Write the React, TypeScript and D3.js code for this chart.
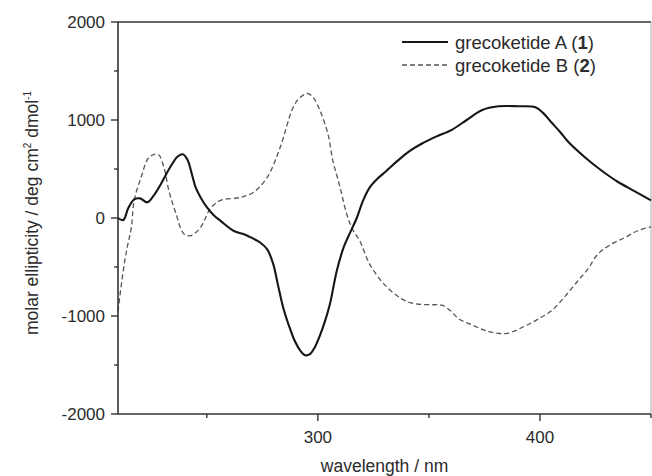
import React, { useEffect, useRef } from 'react';
import * as d3 from 'd3';

// grecoketide A (1), solid
const wavelengthA = [210, 212.4, 214.6, 217.3, 220, 223.1, 225.8, 229.4, 233.8, 237, 239.2, 241.4, 243, 245, 247.2, 250, 253, 256.2, 262, 267.3, 270.9, 274, 277.2, 279.9, 282, 284.4, 287, 289.5, 292, 294.2, 296.4, 298.6, 300.9, 303.1, 305.4, 308.5, 311.6, 314.3, 317.5, 320.2, 323.3, 326.8, 330.8, 335.7, 341.1, 346.9, 353.2, 360.3, 367, 373.8, 381.3, 390.3, 397.9, 401.5, 405, 409, 412.6, 420.2, 427.4, 435, 442.1, 450];
const ellipticityA = [0, -20, 100, 190, 200, 160, 220, 350, 530, 630, 650, 590, 470, 310, 210, 110, 30, -30, -130, -170, -210, -250, -320, -470, -680, -915, -1100, -1250, -1350, -1400, -1390, -1320, -1200, -1060, -880, -540, -300, -160, 0, 170, 310, 400, 480, 580, 680, 760, 830, 900, 1000, 1100, 1140, 1140, 1130, 1070, 980, 880, 780, 620, 490, 370, 280, 180];

// grecoketide B (2), dashed
const wavelengthB = [210, 212.8, 214.6, 216, 217.3, 220.4, 224, 228, 230.7, 232.9, 236.1, 239.6, 242.8, 247.2, 251.7, 256.2, 265.1, 270.9, 277.2, 283, 288.9, 292, 295.5, 298.2, 300.9, 304.5, 306.7, 309.8, 313, 315.7, 318.8, 323.3, 330, 336.7, 341.1, 345.6, 352, 355.9, 359.9, 363.5, 369.3, 375.6, 384.5, 393.5, 399.3, 405, 411.3, 417.1, 421.6, 426, 431.9, 438.2, 444, 450];
const ellipticityB = [-950, -470, -250, -100, 180, 415, 620, 650, 515, 280, 45, -160, -180, -95, 100, 180, 210, 260, 415, 720, 1130, 1230, 1270, 1220, 1100, 860, 590, 330, 40, -120, -230, -470, -680, -810, -860, -880, -885, -890, -950, -1030, -1090, -1150, -1180, -1100, -1030, -950, -800, -640, -520, -370, -270, -200, -130, -90];

const xMajorTicks = [300, 400];
const xMinorTicks = [250, 350, 450];
const yMajorTicks = [2000, 1000, 0, -1000, -2000];
const yMinorTicks = [1500, 500, -500, -1500];

const W = 652;
const H = 476;
const FONT = 'Liberation Sans, Arial, Helvetica, sans-serif';
const TEXT = '#2b2b2b';

const App = () => {
  const svgRef = useRef<SVGSVGElement>(null);

  useEffect(() => {
    const svg = d3.select(svgRef.current);
    svg.selectAll('*').remove();

    const left = 118, right = 651, top = 22, bottom = 414;

    const x = d3.scaleLinear().domain([210, 450]).range([left, right]);
    const y = d3.scaleLinear().domain([-2000, 2000]).range([bottom, top]);

    svg.append('rect').attr('width', W).attr('height', H).attr('fill', '#fff');

    // frame (top and right)
    svg.append('line')
      .attr('x1', left).attr('x2', right).attr('y1', top).attr('y2', top)
      .attr('stroke', '#333').attr('stroke-width', 1.5);
    svg.append('line')
      .attr('x1', right).attr('x2', right).attr('y1', top).attr('y2', bottom)
      .attr('stroke', '#aaa').attr('stroke-width', 1);

    const g = svg.append('g');

    // curves
    const line = d3.line<[number, number]>()
      .x(d => x(d[0]))
      .y(d => y(d[1]))
      .curve(d3.curveCatmullRom.alpha(0.5));

    const dataA = wavelengthA.map((w, i) => [w, ellipticityA[i]] as [number, number]);
    const dataB = wavelengthB.map((w, i) => [w, ellipticityB[i]] as [number, number]);

    g.append('path')
      .attr('d', line(dataB))
      .attr('fill', 'none')
      .attr('stroke', '#555')
      .attr('stroke-width', 1.3)
      .attr('stroke-dasharray', '5,3');

    g.append('path')
      .attr('d', line(dataA))
      .attr('fill', 'none')
      .attr('stroke', '#161616')
      .attr('stroke-width', 2.1);

    // x axis
    const xAxis = svg.append('g').attr('transform', `translate(0,${bottom})`);
    xAxis.append('line')
      .attr('x1', left).attr('x2', right)
      .attr('stroke', '#333').attr('stroke-width', 1.6);
    xMajorTicks.forEach(t => {
      xAxis.append('line')
        .attr('x1', x(t)).attr('x2', x(t)).attr('y1', 0).attr('y2', 7)
        .attr('stroke', '#333').attr('stroke-width', 1.4);
      xAxis.append('text')
        .attr('x', x(t)).attr('y', 29)
        .attr('text-anchor', 'middle')
        .attr('font-size', 17).attr('font-family', FONT).attr('fill', TEXT)
        .text(t);
    });
    xMinorTicks.forEach(t => {
      xAxis.append('line')
        .attr('x1', x(t)).attr('x2', x(t)).attr('y1', 0).attr('y2', 4)
        .attr('stroke', '#333').attr('stroke-width', 1.4);
    });

    // y axis
    const yAxis = svg.append('g').attr('transform', `translate(${left},0)`);
    yAxis.append('line')
      .attr('y1', top).attr('y2', bottom)
      .attr('stroke', '#333').attr('stroke-width', 1.6);
    yMajorTicks.forEach(t => {
      yAxis.append('line')
        .attr('x1', -7).attr('x2', 0).attr('y1', y(t)).attr('y2', y(t))
        .attr('stroke', '#333').attr('stroke-width', 1.4);
      yAxis.append('text')
        .attr('x', -13).attr('y', y(t)).attr('dy', '0.35em')
        .attr('text-anchor', 'end')
        .attr('font-size', 17).attr('font-family', FONT).attr('fill', TEXT)
        .text(t);
    });
    yMinorTicks.forEach(t => {
      yAxis.append('line')
        .attr('x1', -4).attr('x2', 0).attr('y1', y(t)).attr('y2', y(t))
        .attr('stroke', '#333').attr('stroke-width', 1.4);
    });

    // axis titles
    svg.append('text')
      .attr('x', (left + right) / 2).attr('y', 472)
      .attr('text-anchor', 'middle')
      .attr('font-size', 17.5).attr('font-family', FONT).attr('fill', TEXT)
      .text('wavelength / nm');

    const yTitle = svg.append('text')
      .attr('transform', `translate(38,213) rotate(-90)`)
      .attr('text-anchor', 'middle')
      .attr('font-size', 17.5).attr('font-family', FONT).attr('fill', TEXT);
    yTitle.append('tspan').text('molar ellipticity / deg cm');
    yTitle.append('tspan').attr('font-size', 10).attr('dy', -7).text('2');
    yTitle.append('tspan').attr('dy', 7).text(' dmol');
    yTitle.append('tspan').attr('font-size', 10).attr('dy', -7).text('-1');

    // legend
    const legendItems = [
      { name: 'grecoketide A (', num: '1', dash: null, color: '#161616', width: 2.1, ly: 42 },
      { name: 'grecoketide B (', num: '2', dash: '5,3', color: '#555', width: 1.3, ly: 65 }
    ];
    legendItems.forEach(item => {
      svg.append('line')
        .attr('x1', 402).attr('x2', 448).attr('y1', item.ly).attr('y2', item.ly)
        .attr('stroke', item.color).attr('stroke-width', item.width)
        .attr('stroke-dasharray', item.dash);
      const t = svg.append('text')
        .attr('x', 455).attr('y', item.ly + 6.5)
        .attr('font-size', 18.5).attr('font-family', FONT).attr('fill', TEXT);
      t.append('tspan').text(item.name);
      t.append('tspan').attr('font-weight', 'bold').text(item.num);
      t.append('tspan').text(')');
    });
  }, []);

  return <svg ref={svgRef} width={W} height={H} style={{ position: 'absolute', left: 0, top: 0 }} />;
};

export default App;
